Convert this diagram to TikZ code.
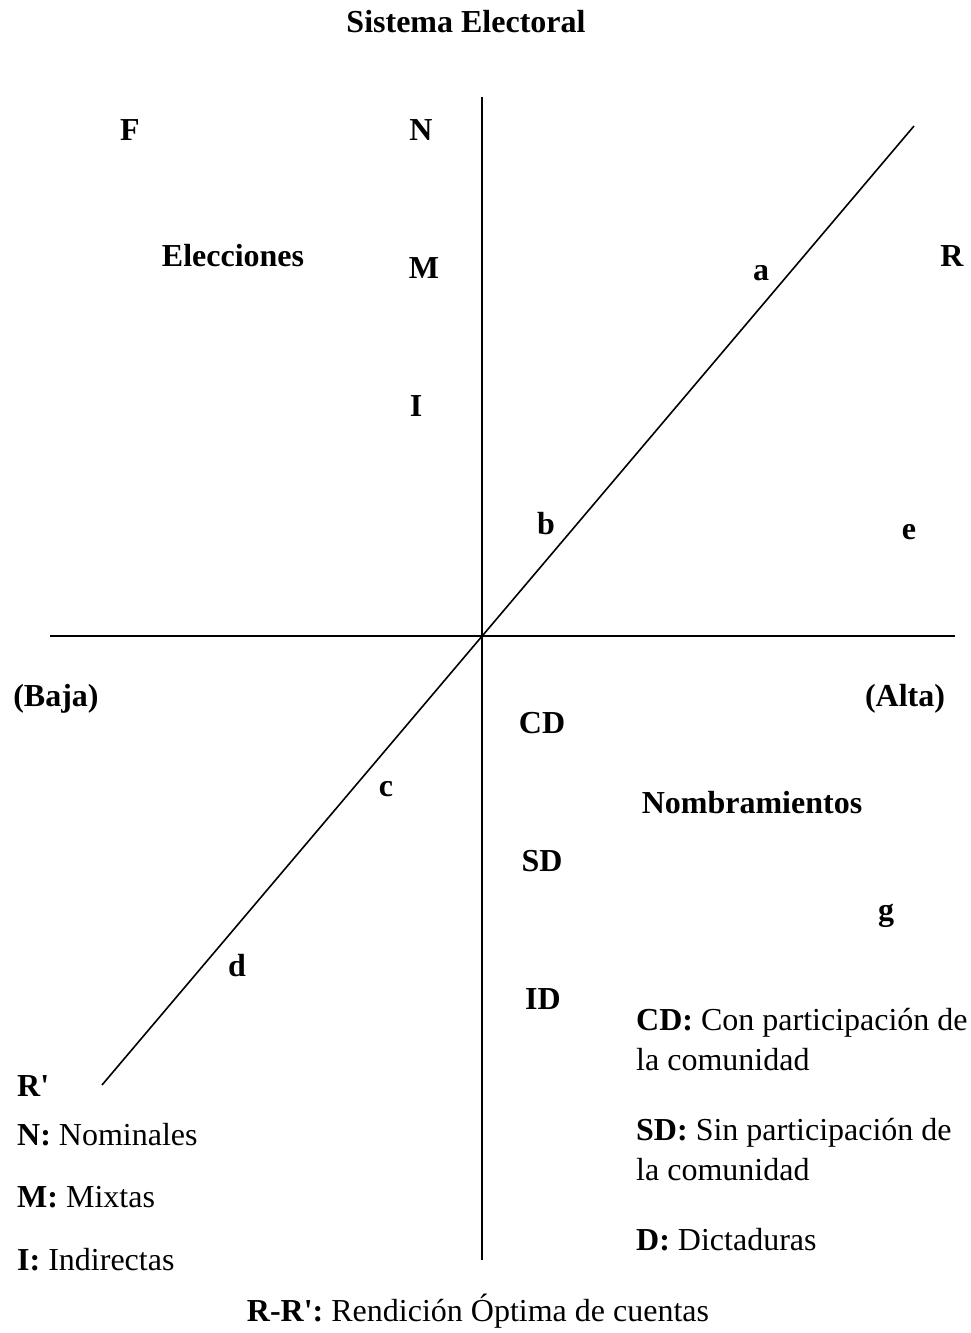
\documentclass[tikz,border=0pt]{standalone}
\usepackage{fontspec}
\setmainfont{Liberation Serif}[Ligatures=TeXOff]
\begin{document}
\begin{tikzpicture}[x=1pt,y=-1pt,
  lbl/.style={inner sep=0pt,anchor=base,font=\fontsize{32}{40}\selectfont\bfseries},
  txt/.style={inner sep=0pt,anchor=base west,font=\fontsize{32}{40}\selectfont},
  axis/.style={line width=1.6pt,black}]
\useasboundingbox (0,0) rectangle (971,1333);
% axes
\coordinate (vt) at (482,97);
\coordinate (vb) at (482,1260);
\coordinate (hl) at (50,636);
\coordinate (hr) at (955,636);
\coordinate (dt) at (914,126);
\coordinate (db) at (102,1085);
\draw[axis] (vt) -- (vb);
\draw[axis] (hl) -- (hr);
\draw[axis] (db) -- (dt);
% labels
\node[lbl] (title) at (466,32) {Sistema Electoral};
\node[lbl] (F) at (130,140) {F};
\node[lbl] (N) at (421,140) {N};
\node[lbl] (elec) at (233,266) {Elecciones};
\node[lbl] (M) at (424,278) {M};
\node[lbl] (a) at (761,280) {a};
\node[lbl] (R) at (952,266) {R};
\node[lbl] (I) at (416,416) {I};
\node[lbl] (b) at (546,534) {b};
\node[lbl] (e) at (909,539) {e};
\node[lbl] (baja) at (56,706) {(Baja)};
\node[lbl] (alta) at (905,706) {(Alta)};
\node[lbl] (CD) at (542,733) {CD};
\node[lbl] (c) at (386,796) {c};
\node[lbl] (nomb) at (752,813) {Nombramientos};
\node[lbl] (SD) at (542,871) {SD};
\node[lbl] (g) at (886,920) {g};
\node[lbl] (d) at (237,976) {d};
\node[lbl] (ID) at (543,1009) {ID};
% right legend
\node[txt] (l1) at (636,1030) {\textbf{CD:} Con participación de};
\node[txt] (l2) at (636,1070) {la comunidad};
\node[txt] (l3) at (636,1140) {\textbf{SD:} Sin participación de};
\node[txt] (l4) at (636,1180) {la comunidad};
\node[txt] (l5) at (636,1250) {\textbf{D:} Dictaduras};
% left legend
\node[txt] (Rp) at (17,1096) {\textbf{R'}};
\node[txt] (k1) at (17,1145) {\textbf{N:} Nominales};
\node[txt] (k2) at (17,1207) {\textbf{M:} Mixtas};
\node[txt] (k3) at (17,1270) {\textbf{I:} Indirectas};
% bottom
\node[txt,anchor=base] (bot) at (478,1321) {\textbf{R-R':} Rendición Óptima de cuentas};
\end{tikzpicture}
\end{document}
